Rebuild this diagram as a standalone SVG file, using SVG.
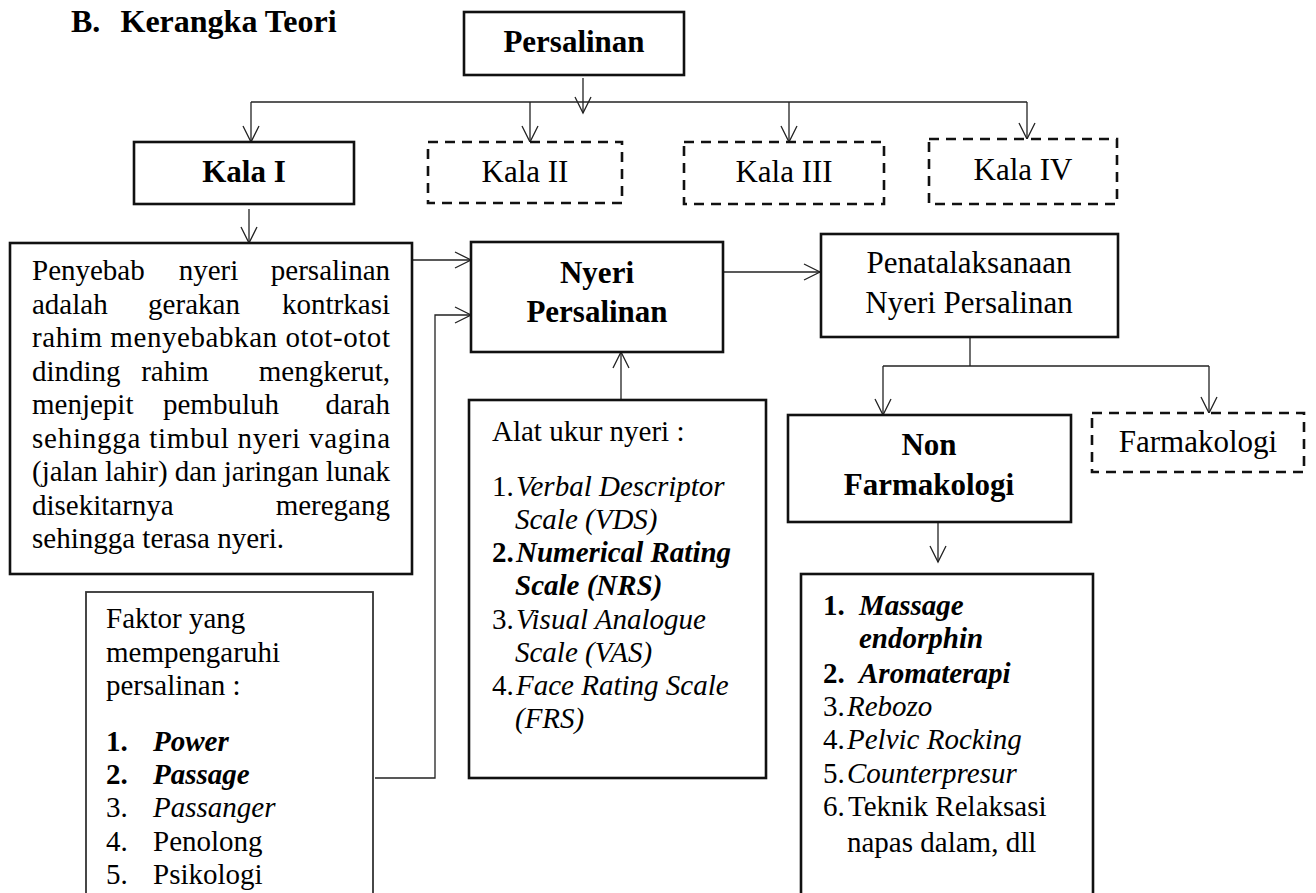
<svg xmlns="http://www.w3.org/2000/svg" width="1316" height="893" viewBox="0 0 1316 893">
<defs>
<style>
text{font-family:"Liberation Serif","Times New Roman",serif;fill:#000}
.h{font-size:31px;font-weight:bold}
.ti{font-size:32px;font-weight:bold}
.hr{font-size:31px}
.t{font-size:29px}
.b{font-weight:bold}
.i{font-style:italic}
.box{fill:#fff;stroke:#111;stroke-width:2.6}
.thin{fill:#fff;stroke:#333;stroke-width:1.8}
.dash{fill:#fff;stroke:#111;stroke-width:2.6;stroke-dasharray:10 7}
.c{fill:none;stroke:#222;stroke-width:1.3;marker-end:url(#arr)}
.cn{fill:none;stroke:#222;stroke-width:1.3}
</style>
<marker id="arr" viewBox="-18 -10 20 20" refX="0" refY="0" markerWidth="20" markerHeight="20" markerUnits="userSpaceOnUse" orient="auto" overflow="visible">
<path d="M-16,-8 L0,0 L-16,8" fill="none" stroke="#222" stroke-width="1.3"/>
</marker>
</defs>
<rect width="1316" height="893" fill="#fff"/>

<g id="title">
<text class="ti" x="71" y="32">B.</text>
<text class="ti" x="120.5" y="32">Kerangka Teori</text>
</g>

<g id="connectors">
<path class="c" d="M583,78 L583,113"/>
<path class="cn" d="M251,102 L1027,102"/>
<path class="c" d="M251,102 L251,142"/>
<path class="c" d="M530,102 L530,142"/>
<path class="c" d="M789,102 L789,142"/>
<path class="c" d="M1027,102 L1027,139"/>
<path class="c" d="M249,209 L249,243"/>
<path class="c" d="M412,260 L471,260"/>
<path class="c" d="M375,778 L435,778 L435,315 L471,315"/>
<path class="c" d="M621,399 L621,352"/>
<path class="c" d="M723,272 L820,272"/>
<path class="cn" d="M970,327 L970,366"/>
<path class="cn" d="M883,366 L1209,366"/>
<path class="c" d="M883,366 L883,415"/>
<path class="c" d="M1209,366 L1209,413"/>
<path class="c" d="M938,522 L938,562"/>
</g>

<g id="persalinan">
<rect class="box" x="464" y="12" width="220" height="63"/>
<text class="h" x="574" y="52" text-anchor="middle">Persalinan</text>
</g>

<g id="kala1">
<rect class="box" x="134" y="142" width="220" height="62"/>
<text class="h" x="244" y="182" text-anchor="middle">Kala I</text>
</g>
<g id="kala2">
<rect class="dash" x="428" y="142" width="194" height="61"/>
<text class="hr" x="525" y="182" text-anchor="middle">Kala II</text>
</g>
<g id="kala3">
<rect class="dash" x="684" y="142" width="200" height="62"/>
<text class="hr" x="784" y="182" text-anchor="middle">Kala III</text>
</g>
<g id="kala4">
<rect class="dash" x="929" y="139" width="188" height="65"/>
<text class="hr" x="1023" y="180" text-anchor="middle">Kala IV</text>
</g>

<g id="penyebab">
<rect class="box" x="10" y="243" width="402" height="331"/>
<text class="t" x="32" y="280">Penyebab</text>
<text class="t" x="208.5" y="280" text-anchor="middle">nyeri</text>
<text class="t" x="390" y="280" text-anchor="end">persalinan</text>
<text class="t" x="32" y="313.5">adalah</text>
<text class="t" x="194" y="313.5" text-anchor="middle">gerakan</text>
<text class="t" x="390" y="313.5" text-anchor="end">kontrkasi</text>
<text class="t" x="32" y="347" textLength="358" lengthAdjust="spacing">rahim menyebabkan otot-otot</text>
<text class="t" x="32" y="380.5">dinding</text>
<text class="t" x="175" y="380.5" text-anchor="middle">rahim</text>
<text class="t" x="390" y="380.5" text-anchor="end">mengkerut,</text>
<text class="t" x="32" y="414">menjepit</text>
<text class="t" x="221" y="414" text-anchor="middle">pembuluh</text>
<text class="t" x="390" y="414" text-anchor="end">darah</text>
<text class="t" x="32" y="447.5" textLength="358" lengthAdjust="spacing">sehingga timbul nyeri vagina</text>
<text class="t" x="32" y="481" textLength="358" lengthAdjust="spacing">(jalan lahir) dan jaringan lunak</text>
<text class="t" x="32" y="514.5">disekitarnya</text>
<text class="t" x="390" y="514.5" text-anchor="end">meregang</text>
<text class="t" x="32" y="548">sehingga terasa nyeri.</text>
</g>

<g id="nyeri">
<rect class="box" x="471" y="242" width="252" height="110"/>
<text class="h" x="597" y="283" text-anchor="middle">Nyeri</text>
<text class="h" x="597" y="322" text-anchor="middle">Persalinan</text>
</g>

<g id="penatalaksanaan">
<rect class="box" x="821" y="234" width="297" height="103"/>
<text class="hr" x="969" y="273" text-anchor="middle">Penatalaksanaan</text>
<text class="hr" x="969" y="313" text-anchor="middle">Nyeri Persalinan</text>
</g>

<g id="nonfarmakologi">
<rect class="box" x="788" y="415" width="283" height="107"/>
<text class="h" x="929" y="455" text-anchor="middle">Non</text>
<text class="h" x="929" y="495" text-anchor="middle">Farmakologi</text>
</g>

<g id="farmakologi">
<rect class="dash" x="1092" y="413" width="212" height="59"/>
<text class="hr" x="1198" y="452" text-anchor="middle">Farmakologi</text>
</g>

<g id="alat">
<rect class="box" x="469" y="400" width="297" height="378"/>
<text class="t" x="492" y="441">Alat ukur nyeri :</text>
<text class="t" x="492" y="496">1.<tspan class="i" x="516">Verbal Descriptor</tspan></text>
<text class="t i" x="515" y="529">Scale (VDS)</text>
<text class="t b" x="492" y="562">2.<tspan class="i" x="516">Numerical Rating</tspan></text>
<text class="t b i" x="515" y="595">Scale (NRS)</text>
<text class="t" x="492" y="629">3.<tspan class="i" x="516">Visual Analogue</tspan></text>
<text class="t i" x="515" y="662">Scale (VAS)</text>
<text class="t" x="492" y="695">4.<tspan class="i" x="516">Face Rating Scale</tspan></text>
<text class="t i" x="515" y="728">(FRS)</text>
</g>

<g id="faktor">
<rect class="thin" x="86" y="592" width="287" height="310"/>
<text class="t" x="106" y="628">Faktor yang</text>
<text class="t" x="106" y="662">mempengaruhi</text>
<text class="t" x="106" y="695">persalinan :</text>
<text class="t b" x="106" y="751">1.<tspan class="i" x="153">Power</tspan></text>
<text class="t b" x="106" y="784">2.<tspan class="i" x="153">Passage</tspan></text>
<text class="t" x="106" y="817">3.<tspan class="i" x="153">Passanger</tspan></text>
<text class="t" x="106" y="851">4.<tspan x="153">Penolong</tspan></text>
<text class="t" x="106" y="884">5.<tspan x="153">Psikologi</tspan></text>
</g>

<g id="nflist">
<rect class="box" x="801" y="574" width="292" height="330"/>
<text class="t b" x="823" y="615">1.<tspan class="i" x="859">Massage</tspan></text>
<text class="t b i" x="859" y="648">endorphin</text>
<text class="t b" x="823" y="683">2.<tspan class="i" x="859">Aromaterapi</tspan></text>
<text class="t" x="823" y="716">3.<tspan class="i" x="847">Rebozo</tspan></text>
<text class="t" x="823" y="749">4.<tspan class="i" x="847">Pelvic Rocking</tspan></text>
<text class="t" x="823" y="783">5.<tspan class="i" x="847">Counterpresur</tspan></text>
<text class="t" x="823" y="816">6.<tspan x="848">Teknik Relaksasi</tspan></text>
<text class="t" x="847" y="852">napas dalam, dll</text>
</g>
</svg>
